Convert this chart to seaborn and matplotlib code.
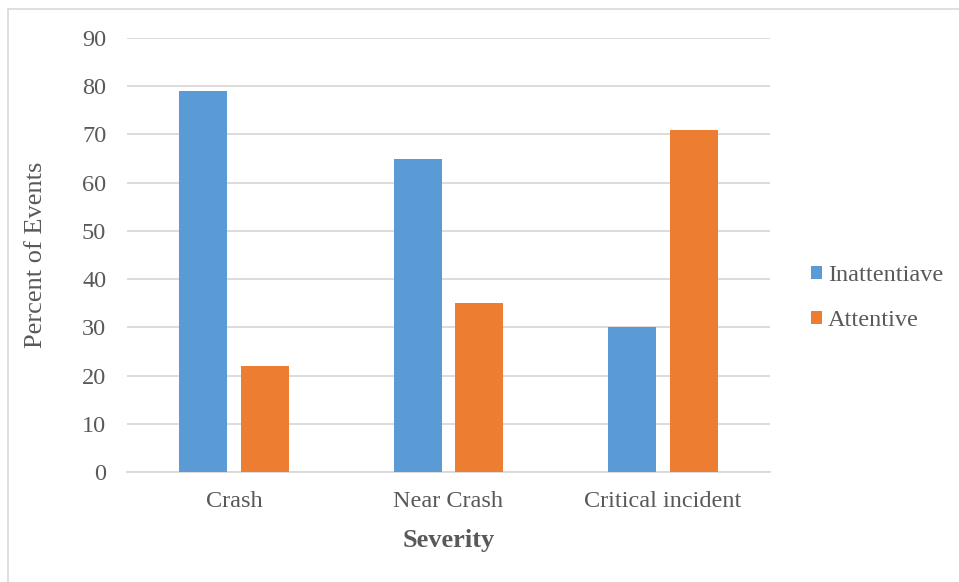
import matplotlib
matplotlib.use("Agg")
import matplotlib.pyplot as plt
from matplotlib.lines import Line2D
from matplotlib.patches import Patch
import pandas as pd
import seaborn as sns

categories = ["Crash", "Near Crash", "Critical incident"]
series = ["Inattentiave", "Attentive"]
inattentive = [79, 65, 30]
attentive = [22, 35, 71]
y_ticks = [0, 10, 20, 30, 40, 50, 60, 70, 80, 90]

colors = {"Inattentiave": "#5B9BD5", "Attentive": "#ED7D31"}
text_color = "#595959"
grid_color = "#D9D9D9"

df = pd.DataFrame({
    "Severity": categories * 2,
    "Group": [series[0]] * 3 + [series[1]] * 3,
    "Percent": inattentive + attentive,
})

sns.set_theme(style="white")
plt.rcParams["font.family"] = ["Liberation Serif", "DejaVu Serif"]

fig = plt.figure(figsize=(9.59, 5.82), dpi=100)
ax = fig.add_axes([127 / 959, 1 - 472 / 582, 643 / 959, 434 / 582])

sns.barplot(data=df, x="Severity", y="Percent", hue="Group", order=categories,
            hue_order=series, palette=colors, width=0.578, gap=0.225,
            saturation=1, ax=ax, legend=False, linewidth=0, zorder=3)

ax.set_ylim(0, 90)
ax.set_xlim(-0.5, 2.5)
ax.set_yticks(y_ticks)
ax.yaxis.grid(True, color=grid_color, linewidth=1.3, zorder=0)
ax.set_axisbelow(True)
for side in ["top", "right", "left"]:
    ax.spines[side].set_visible(False)
ax.spines["bottom"].set_color(grid_color)
ax.spines["bottom"].set_linewidth(1.3)

ax.tick_params(axis="both", length=0, labelsize=17.5, labelcolor=text_color)
ax.tick_params(axis="y", pad=15)
ax.tick_params(axis="x", pad=14)

ax.set_ylabel("Percent of Events", fontsize=19, color=text_color, va="center")
ax.yaxis.set_label_coords(-0.142, 0.5)
ax.set_xlabel("Severity", fontsize=19, color=text_color, fontweight="bold", va="center")
ax.xaxis.set_label_coords(0.5, -0.158)

handles = [Patch(facecolor=colors[s], edgecolor="none") for s in series]
fig.legend(handles, series, loc="center left", bbox_to_anchor=(811 / 959, 1 - 298 / 582),
           frameon=False, fontsize=17.5, labelcolor=text_color,
           handlelength=0.45, handleheight=0.45, handletextpad=0.25,
           labelspacing=1.0, borderpad=0, borderaxespad=0)

# light frame along the top and left edges
fig.add_artist(Line2D([8 / 959, 1], [1 - 9 / 582, 1 - 9 / 582], color="#D9D9D9", linewidth=1.2))
fig.add_artist(Line2D([8 / 959, 8 / 959], [0, 1 - 9 / 582], color="#D9D9D9", linewidth=1.2))

fig.savefig("out.png", dpi=100)
